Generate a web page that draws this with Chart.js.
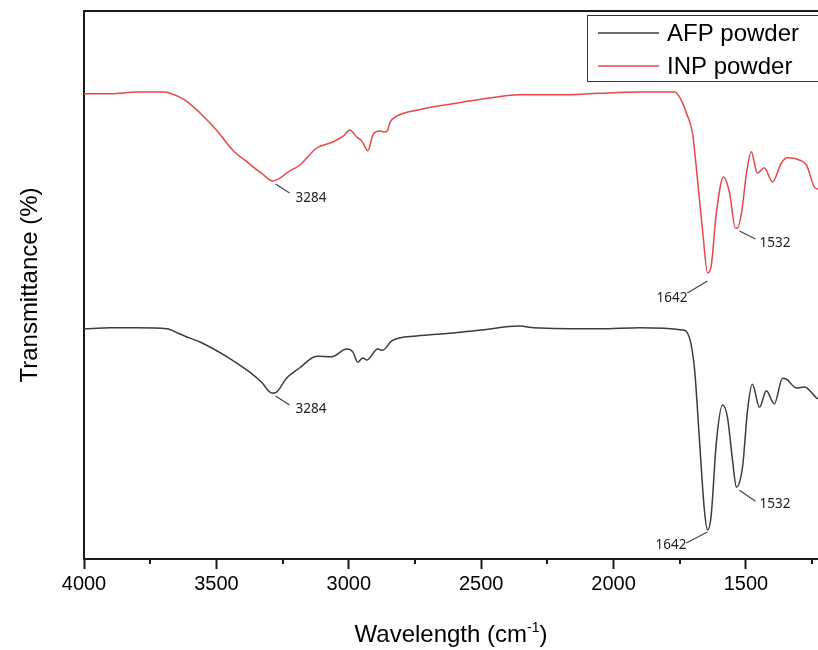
<!DOCTYPE html>
<html lang="en">
<head>
  <meta charset="UTF-8" />
  <title>FTIR AFP / INP powder</title>
  <script src="https://cdn.jsdelivr.net/npm/chart.js@4.4.1/dist/chart.umd.min.js"></script>
  <style>
    html, body {margin: 0; padding: 0; background: #fff;}
    #wrap {width: 818px; height: 650px;}
  </style>
</head>
<body>
  <div id="wrap"><canvas id="ftir" width="818" height="650"></canvas></div>

  <script>
    // INP powder (red) - wavenumber (cm-1) and transmittance (arb.)
    const inpWave = [4000, 3900, 3800, 3700, 3675, 3620, 3562, 3500, 3438, 3380, 3330, 3287, 3260, 3230, 3185,
      3121, 3060, 3020, 2996, 2970, 2951, 2928, 2909, 2883, 2864, 2853, 2845, 2819, 2744, 2619, 2500, 2355,
      2200, 2053, 1900, 1770, 1745, 1725, 1702, 1683, 1664, 1645, 1632, 1612, 1585, 1562, 1540, 1532, 1517,
      1498, 1480, 1457, 1431, 1400, 1366, 1343, 1298, 1272, 1242, 1228];
    const inpTrans = [84.9, 84.9, 85.2, 85.2, 85.0, 83.8, 81.4, 78.3, 74.6, 72.3, 70.4, 69.0, 69.5, 70.6, 71.9,
      75.0, 76.1, 77.2, 78.3, 77.0, 76.3, 74.5, 77.4, 78.1, 77.9, 78.3, 79.6, 80.8, 81.9, 83.0, 83.9, 84.7,
      84.7, 85.0, 85.2, 85.2, 83.8, 81.4, 77.7, 69.2, 60.0, 52.2, 53.3, 63.1, 69.7, 66.8, 60.4, 60.4, 63.1,
      70.4, 74.3, 70.4, 71.4, 68.8, 72.3, 73.2, 72.8, 71.9, 67.9, 67.5];

    // AFP powder (black)
    const afpWave = [4000, 3900, 3800, 3687, 3640, 3600, 3562, 3460, 3374, 3330, 3291, 3280, 3235, 3185, 3121,
      3064, 3008, 2985, 2966, 2947, 2932, 2891, 2872, 2838, 2744, 2619, 2500, 2355, 2300, 2053, 1900, 1740,
      1713, 1694, 1675, 1657, 1645, 1632, 1612, 1589, 1570, 1551, 1536, 1513, 1494, 1476, 1449, 1423, 1393,
      1362, 1347, 1309, 1279, 1234, 1228];
    const afpTrans = [42.0, 42.2, 42.2, 42.0, 41.1, 40.3, 39.6, 36.9, 34.1, 32.3, 30.3, 30.3, 33.0, 34.9, 37.0,
      36.9, 38.3, 37.8, 35.9, 36.7, 36.3, 38.3, 38.1, 39.8, 40.7, 41.2, 41.8, 42.5, 42.2, 42.0, 42.2, 41.8,
      40.3, 34.5, 21.2, 8.9, 5.3, 7.7, 21.2, 28.1, 25.9, 18.1, 13.1, 16.8, 27.2, 31.9, 27.7, 30.7, 28.3,
      33.0, 32.8, 31.2, 31.4, 29.4, 29.2];

    // labelled peaks
    const peakWave = [3284, 1642, 1532];
    const peakLabels = ["3284", "1642", "1532"];
    const inpPeakTrans = [69.0, 52.2, 60.4];
    const afpPeakTrans = [30.3, 5.3, 13.1];

    const xTicks = [4000, 3500, 3000, 2500, 2000, 1500];
    const xMinorTicks = [3750, 3250, 2750, 2250, 1750, 1250];

    const toXY = (xs, ys) => xs.map((x, i) => ({x: x, y: ys[i]}));

    // leader line + label offsets (px) for each peak, per series
    const peakStyle = [
      [ // INP
        {l: [2, 3, 16, 12], t: [22, 17], align: "left"},
        {l: [-1, 8, -21, 20], t: [-21, 25], align: "right"},
        {l: [2, 3, 18, 11], t: [22, 15], align: "left"}
      ],
      [ // AFP
        {l: [2, 3, 16, 12], t: [22, 16], align: "left"},
        {l: [-1, 2, -22, 13], t: [-22, 15], align: "right"},
        {l: [2, 3, 18, 14], t: [22, 17], align: "left"}
      ]
    ];

    const extras = {
      id: "extras",
      afterDatasetsDraw(chart) {
        const ctx = chart.ctx, x = chart.scales.x, y = chart.scales.y, a = chart.chartArea;
        ctx.save();
        // frame: top line and minor ticks
        ctx.strokeStyle = "#1a1a1a";
        ctx.lineWidth = 2;
        ctx.beginPath();
        ctx.moveTo(a.left - 1, a.top); ctx.lineTo(a.right, a.top);
        ctx.stroke();
        xMinorTicks.forEach(v => {
          const px = Math.round(x.getPixelForValue(v));
          ctx.beginPath();
          ctx.moveTo(px, a.bottom); ctx.lineTo(px, a.bottom + 5);
          ctx.stroke();
        });

        // peak annotations
        ctx.font = "13.5px 'Noto Sans', sans-serif";
        ctx.textBaseline = "middle";
        ctx.lineWidth = 1.2;
        [inpPeakTrans, afpPeakTrans].forEach((vals, k) => {
          peakWave.forEach((w, i) => {
            const px = x.getPixelForValue(w), py = y.getPixelForValue(vals[i]);
            const s = peakStyle[k][i];
            ctx.strokeStyle = "#444";
            ctx.beginPath();
            ctx.moveTo(px + s.l[0], py + s.l[1]);
            ctx.lineTo(px + s.l[2], py + s.l[3]);
            ctx.stroke();
            ctx.fillStyle = "#222";
            ctx.textAlign = s.align;
            ctx.fillText(peakLabels[i], px + s.t[0], py + s.t[1]);
          });
        });

        // legend box
        ctx.lineWidth = 1;
        ctx.strokeStyle = "#333";
        ctx.strokeRect(587.5, 15.5, 240, 66);
        ctx.font = "24px 'Liberation Sans', Arial, sans-serif";
        ctx.textAlign = "left";
        chart.data.datasets.forEach((d, i) => {
          const ly = 33 + i * 33;
          ctx.strokeStyle = d.borderColor;
          ctx.lineWidth = 1.3;
          ctx.beginPath();
          ctx.moveTo(598, ly); ctx.lineTo(659, ly);
          ctx.stroke();
          ctx.fillStyle = "#000";
          ctx.fillText(d.label, 667, ly + 1);
        });

        // x axis title with superscript
        ctx.fillStyle = "#000";
        ctx.textBaseline = "alphabetic";
        const cx = (a.left + a.right) / 2, by = 642;
        const t1 = "Wavelength (cm", t2 = "-1", t3 = ")";
        ctx.font = "24px 'Liberation Sans', Arial, sans-serif";
        const w1 = ctx.measureText(t1).width, w3 = ctx.measureText(t3).width;
        ctx.font = "14px 'Liberation Sans', Arial, sans-serif";
        const w2 = ctx.measureText(t2).width;
        let sx = cx - (w1 + w2 + w3) / 2;
        ctx.font = "24px 'Liberation Sans', Arial, sans-serif";
        ctx.fillText(t1, sx, by);
        ctx.font = "14px 'Liberation Sans', Arial, sans-serif";
        ctx.fillText(t2, sx + w1, by - 10);
        ctx.font = "24px 'Liberation Sans', Arial, sans-serif";
        ctx.fillText(t3, sx + w1 + w2, by);
        ctx.restore();
      }
    };

    new Chart(document.getElementById("ftir").getContext("2d"), {
      type: "line",
      data: {
        datasets: [
          {
            label: "AFP powder",
            data: toXY(afpWave, afpTrans),
            borderColor: "#3c3c3c",
            borderWidth: 1.5,
            pointRadius: 0,
            cubicInterpolationMode: "monotone"
          },
          {
            label: "INP powder",
            data: toXY(inpWave, inpTrans),
            borderColor: "#e8474a",
            borderWidth: 1.5,
            pointRadius: 0,
            cubicInterpolationMode: "monotone"
          }
        ]
      },
      options: {
        responsive: false,
        animation: false,
        layout: {padding: {top: 11, right: 0, left: 0, bottom: 0}},
        plugins: {legend: {display: false}, tooltip: {enabled: false}},
        scales: {
          x: {
            type: "linear",
            reverse: true,
            min: 1228,
            max: 4000,
            afterBuildTicks: s => { s.ticks = xTicks.map(v => ({value: v})); },
            afterFit: s => { s.height = 91; },
            grid: {drawOnChartArea: false, tickLength: 10, tickWidth: 2, tickColor: "#1a1a1a"},
            border: {color: "#1a1a1a", width: 2},
            ticks: {color: "#000", padding: 3, maxRotation: 0, autoSkip: false,
              callback: v => String(v),
              font: {family: "'Liberation Sans', Arial, sans-serif", size: 20}}
          },
          y: {
            min: 0,
            max: 100,
            afterFit: s => { s.width = 84; },
            grid: {display: false, drawTicks: false},
            border: {color: "#1a1a1a", width: 2},
            ticks: {display: false},
            title: {display: true, text: "Transmittance (%)", color: "#000", padding: {top: 16, bottom: 0},
              font: {family: "'Liberation Sans', Arial, sans-serif", size: 24}}
          }
        }
      },
      plugins: [extras]
    });
  </script>
</body>
</html>
